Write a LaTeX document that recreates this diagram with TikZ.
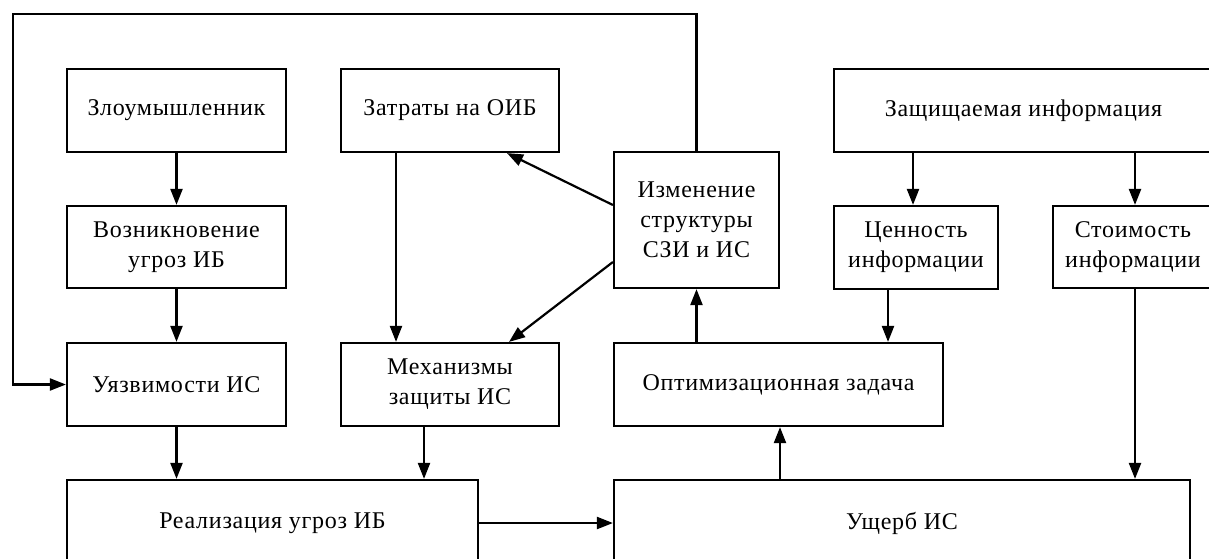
\documentclass[tikz,border=0pt]{standalone}
\usepackage{fontspec}
\setmainfont[LetterSpace=3]{Liberation Serif}
\usetikzlibrary{arrows.meta}
\begin{document}
\begin{tikzpicture}[x=1pt,y=-1pt,
  box/.style={draw, line width=2.2pt, align=center, inner sep=0pt, fill=white,
    font=\fontsize{24}{30}\selectfont},
  arr/.style={line width=2.2pt, -{Triangle[length=16pt,width=12pt]}}]
\useasboundingbox (0,0) rectangle (1209,558);
\clip (0,0) rectangle (1209,558);
\fill[white] (0,0) rectangle (1209,558);
% nodes
\node[box, minimum width=219pt, minimum height=83pt] (zl) at (176.5,110.5) {Злоумышленник};
\node[box, minimum width=218pt, minimum height=83pt] (zatr) at (450,110.5) {Затраты на ОИБ};
\node[box, minimum width=165pt, minimum height=136pt] (izm) at (696.5,220) {Изменение\\структуры\\СЗИ и ИС};
\node[box, minimum width=379pt, minimum height=83pt] (zash) at (1023.5,110.5) {Защищаемая информация};
\node[box, minimum width=219pt, minimum height=82pt] (voz) at (176.5,247) {Возникновение\\угроз ИБ};
\node[box, minimum width=164pt, minimum height=83pt] (cen) at (916,247.5) {Ценность\\информации};
\node[box, minimum width=160pt, minimum height=82pt] (stoim) at (1133,247) {Стоимость\\информации};
\node[box, minimum width=219pt, minimum height=83pt] (uyaz) at (176.5,384.5) {Уязвимости ИС};
\node[box, minimum width=218pt, minimum height=83pt] (mech) at (450,384.5) {Механизмы\\защиты ИС};
\node[box, minimum width=329pt, minimum height=83pt] (opt) at (778.5,384.5) {Оптимизационная задача};
\node[box, minimum width=411pt, minimum height=86pt] (real) at (272.5,523) {Реализация угроз ИБ};
\node[box, minimum width=576pt, minimum height=86pt] (ush) at (902,523) {Ущерб ИС};
% helper coordinates
\coordinate (fbTL) at (13,14);
\coordinate (zatrOut) at ([xshift=-54pt]zatr.south);
\coordinate (mechOut) at ([xshift=-26pt]mech.south);
\coordinate (izmA) at ([yshift=15pt]izm.west);
\coordinate (izmB) at ([yshift=-42pt]izm.west);
\coordinate (zatrIn) at ([xshift=57pt]zatr.south);
\coordinate (mechIn) at ([xshift=59pt]mech.north);
\coordinate (cenIn) at ([xshift=-3pt]cen.north);
\coordinate (stIn) at ([xshift=2pt]stoim.north);
\coordinate (cenOut) at ([xshift=-28pt]cen.south);
\coordinate (stOut) at ([xshift=2pt]stoim.south);
\coordinate (optIn) at ([xshift=1.5pt]opt.south);
% connectors
\draw[arr] (zl) -- (voz);
\draw[arr] (voz) -- (uyaz);
\draw[arr] (uyaz.south) -- (uyaz.south |- real.north);
\draw[arr] (zatrOut) -- (zatrOut |- mech.north);
\draw[arr] (mechOut) -- (mechOut |- real.north);
\draw[arr] (izmA) -- (zatrIn);
\draw[arr] (izmB) -- (mechIn);
\draw[arr] (izm.north) |- (fbTL) |- (uyaz.west);
\draw[arr] (cenIn |- zash.south) -- (cenIn);
\draw[arr] (stIn |- zash.south) -- (stIn);
\draw[arr] (cenOut) -- (cenOut |- opt.north);
\draw[arr] (stOut) -- (stOut |- ush.north);
\draw[arr] (opt.north -| izm.south) -- (izm.south);
\draw[arr] (optIn |- ush.north) -- (optIn);
\draw[arr] (real.east) -- (ush.west);
\end{tikzpicture}
\end{document}
